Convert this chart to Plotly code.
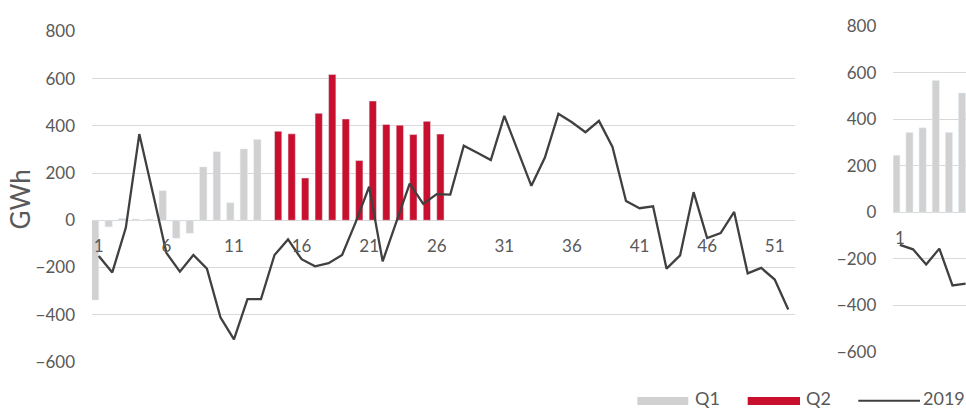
import plotly.graph_objects as go

# ---------------- data ----------------
weeks = list(range(1, 53))
q1_weeks = list(range(1, 14))
q1_values = [-338, -28, 7, 5, 4, 125, -76, -55, 226, 290, 74, 302, 342]
q2_weeks = list(range(14, 27))
q2_values = [377, 366, 179, 453, 618, 429, 253, 505, 406, 403, 363, 419, 365]
line_2019 = [-151, -221, -32, 365, 115, -138, -218, -147, -205, -411,
             -505, -334, -334, -147, -81, -165, -195, -182, -147, -9,
             142, -174, -9, 155, 69, 111, 109, 316, 286, 255,
             442, 294, 146, 266, 451, 415, 373, 421, 311, 82,
             51, 59, -205, -149, 119, -75, -54, 35, -225, -202,
             -251, -378]

right_weeks = [1, 2, 3, 4, 5, 6]
right_q1 = [245, 343, 363, 567, 343, 513]
right_line = [-140, -159, -224, -156, -314, -306]

x_tick_vals = [1, 6, 11, 16, 21, 26, 31, 36, 41, 46, 51]
y_tick_vals = [-600, -400, -200, 0, 200, 400, 600, 800]

# ---------------- style ----------------
W, H = 966, 417
GRAY = "#D0D1D0"
RED = "#C8102E"
LINE = "#404040"
GRID = "#D9D9D9"
TXT = "#595959"
FONT = "Lato"
BW = 0.54


def px_x(x):
    return x / W


def px_y(y):
    return (H - y) / H


fig = go.Figure()

# left chart
fig.add_trace(go.Bar(x=q1_weeks, y=q1_values, name="Q1", marker_color=GRAY,
                     width=BW, offset=-BW, xaxis="x", yaxis="y"))
fig.add_trace(go.Bar(x=q2_weeks, y=q2_values, name="Q2", marker_color=RED,
                     width=BW, offset=0, xaxis="x", yaxis="y"))
fig.add_trace(go.Scatter(x=weeks, y=line_2019, name="2019", mode="lines",
                         line=dict(color=LINE, width=2.3), xaxis="x", yaxis="y"))

# right chart (cut off at page edge)
fig.add_trace(go.Bar(x=right_weeks, y=right_q1, name="Q1", marker_color=GRAY,
                     width=BW, offset=-BW, xaxis="x2", yaxis="y2"))
fig.add_trace(go.Scatter(x=right_weeks, y=right_line, name="2019", mode="lines",
                         line=dict(color=LINE, width=2.3), xaxis="x2", yaxis="y2"))

left_dom_y = [px_y(369.5), px_y(21.5)]
right_dom_y = [px_y(359), px_y(16)]


def zero_pos(dom, lo=-600, hi=800):
    return dom[0] + (0 - lo) / (hi - lo) * (dom[1] - dom[0])


common_x = dict(showgrid=False, zeroline=False, showline=False, ticks="",
                tickmode="array", tickfont=dict(family=FONT, size=17, color=TXT),
                ticklabelstandoff=14, anchor="free", fixedrange=True)
common_y = dict(range=[-600, 800], tickmode="array", tickvals=y_tick_vals,
                showgrid=True, gridcolor=GRID, gridwidth=1.4, zeroline=False,
                showline=False, ticks="", ticklabelstandoff=16, fixedrange=True,
                tickfont=dict(family=FONT, size=17, color=TXT))

fig.update_layout(
    width=W, height=H,
    margin=dict(l=0, r=0, t=0, b=0),
    paper_bgcolor="white", plot_bgcolor="white",
    barmode="overlay",
    showlegend=False,
    hovermode=False,
    xaxis=dict(domain=[px_x(92), px_x(795)], range=[0.5, 52.5],
               tickvals=x_tick_vals, position=zero_pos(left_dom_y), **common_x),
    yaxis=dict(domain=left_dom_y, anchor="x", **common_y),
    xaxis2=dict(domain=[px_x(893.3), 1.0], range=[0.5, 0.5 + (W - 893.3) / 13.15],
                tickvals=[1, 6], position=zero_pos(right_dom_y), **common_x),
    yaxis2=dict(domain=right_dom_y, anchor="x2", **common_y),
)

# y-axis title
fig.add_annotation(text="GWh", x=px_x(19.5), y=px_y(199), xref="paper", yref="paper",
                   textangle=-90, showarrow=False,
                   font=dict(family=FONT, size=26, color=TXT),
                   xanchor="center", yanchor="middle")

# manual legend
leg_y0, leg_y1 = px_y(415), px_y(406.5)
leg_mid = px_y(407.5)
fig.add_shape(type="rect", xref="paper", yref="paper", x0=px_x(637.3), x1=px_x(688.3),
              y0=leg_y0, y1=leg_y1, fillcolor=GRAY, line=dict(width=0))
fig.add_shape(type="rect", xref="paper", yref="paper", x0=px_x(747.7), x1=px_x(800),
              y0=leg_y0, y1=leg_y1, fillcolor=RED, line=dict(width=0))
fig.add_shape(type="line", xref="paper", yref="paper", x0=px_x(858.3), x1=px_x(920),
              y0=px_y(410.5), y1=px_y(410.5), line=dict(color=LINE, width=2))
for txt, xl in [("Q1", 693), ("Q2", 804), ("2019", 921)]:
    fig.add_annotation(text=txt, x=px_x(xl), y=leg_mid, xref="paper", yref="paper",
                       showarrow=False, xanchor="left", yanchor="middle",
                       font=dict(family=FONT, size=18, color=TXT))

fig.write_html("out.html", config={"displayModeBar": False},
               post_script="document.body.style.margin='0px';")
